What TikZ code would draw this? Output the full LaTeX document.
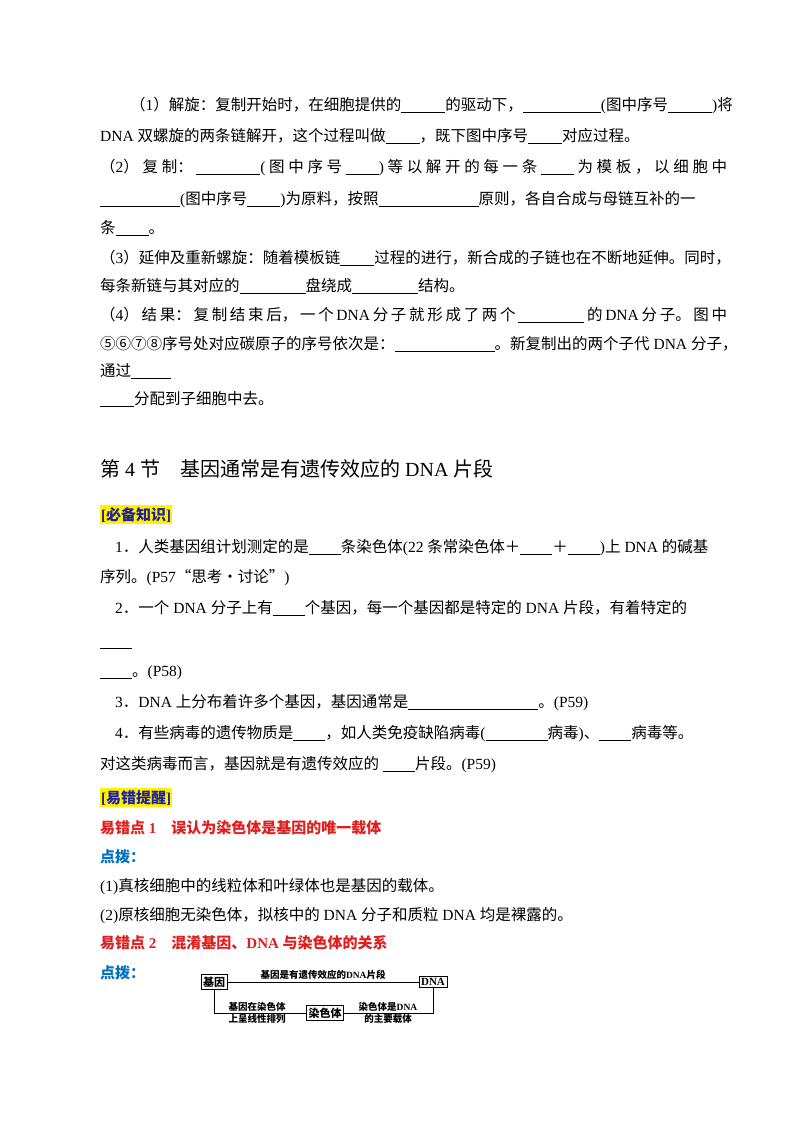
\documentclass[tikz,border=0pt]{standalone}
\usepackage{fontspec}
\setmainfont{Liberation Serif}
\newfontfamily\cjk{Noto Sans CJK SC}
\XeTeXinterchartokenstate=1
\newXeTeXintercharclass\cjkclass
\newcount\cc
\def\setrange#1#2{\cc=#1 \loop \XeTeXcharclass\cc=\cjkclass \advance\cc 1 \ifnum\cc<#2 \repeat}
\setrange{"3000}{"3040}
\setrange{"4E00}{"A000}
\setrange{"FF00}{"FFF0}
\setrange{"2460}{"2500}
\XeTeXcharclass"201C=\cjkclass
\XeTeXcharclass"201D=\cjkclass
\XeTeXcharclass"00B7=\cjkclass
\XeTeXinterchartoks 0 \cjkclass = {\cjk}
\XeTeXinterchartoks 4095 \cjkclass = {\cjk}
\XeTeXinterchartoks \cjkclass 0 = {\rmfamily}
\XeTeXinterchartoks \cjkclass 4095 = {\rmfamily}
\newcommand\bl[1]{\rule[-2.5pt]{#1pt}{0.6pt}}
\newcommand\hf{\hfill}
\definecolor{hdblue}{HTML}{2020A0}
\definecolor{errred}{HTML}{E01E1E}
\definecolor{tipblue}{HTML}{0070C0}
\begin{document}
\begin{tikzpicture}[x=1pt,y=-1pt,
  ln/.style={anchor=base west,inner sep=0pt,font=\fontsize{15.5}{17}\selectfont},
  hl/.style={anchor=base west,inner xsep=1pt,inner ysep=2pt,fill=yellow,text=hdblue,font=\fontsize{15}{17}\selectfont\bfseries},
  err/.style={ln,text=errred,font=\fontsize{15}{17}\selectfont\bfseries},
  tip/.style={ln,text=tipblue,font=\fontsize{15}{17}\selectfont\bfseries},
  bx/.style={draw,line width=0.6pt,inner sep=2pt,font=\fontsize{11}{12}\selectfont\bfseries},
  lb/.style={inner sep=0pt,align=center,font=\fontsize{9.5}{12}\selectfont\bfseries},
  cn/.style={line width=0.6pt}]
\useasboundingbox[fill=white] (0,0) rectangle (800,1132);
\node[ln] (l1) at (130,110) {（1）解旋：复制开始时，在细胞提供的\bl{44}的驱动下，\bl{78}(图中序号\bl{44})将};
\node[ln] (l2) at (100,141) {DNA 双螺旋的两条链解开，这个过程叫做\bl{34}，既下图中序号\bl{34}对应过程。};
\node[ln] (l3) at (100,172) {\makebox[627pt][s]{（2）\hf 复\hf 制：\hf\bl{64}(\hf 图\hf 中\hf 序\hf 号\hf\bl{33})\hf 等\hf 以\hf 解\hf 开\hf 的\hf 每\hf 一\hf 条\hf\bl{33}\hf 为\hf 模\hf 板\hf ，\hf 以\hf 细\hf 胞\hf 中}};
\node[ln] (l4) at (100,204) {\bl{80}(图中序号\bl{33})为原料，按照\bl{100}原则，各自合成与母链互补的一};
\node[ln] (l5) at (100,233) {条\bl{33}。};
\node[ln] (l6) at (100,263) {（3）延伸及重新螺旋：随着模板链\bl{34}过程的进行，新合成的子链也在不断地延伸。同时，};
\node[ln] (l7) at (100,291) {每条新链与其对应的\bl{66}盘绕成\bl{66}结构。};
\node[ln] (l8) at (100,320) {\makebox[627pt][s]{（4）\hf 结\hf 果：\hf 复\hf 制\hf 结\hf 束\hf 后，\hf 一\hf 个\hf DNA\hf 分\hf 子\hf 就\hf 形\hf 成\hf 了\hf 两\hf 个\hf\bl{66}\hf 的\hf DNA\hf 分\hf 子。\hf 图\hf 中}};
\node[ln] (l9) at (100,349) {⑤⑥⑦⑧序号处对应碳原子的序号依次是：\bl{100}。新复制出的两个子代 DNA 分子，};
\node[ln] (l10) at (100,376) {通过\bl{40}};
\node[ln] (l11) at (100,404) {\bl{34}分配到子细胞中去。};
\node[anchor=base west,inner sep=0pt,font=\fontsize{20}{22}\selectfont] (h) at (100,476) {第 4 节　基因通常是有遗传效应的 DNA 片段};
\node[hl] (k1) at (100,520) {[必备知识]};
\node[ln] (m1) at (115,552) {1．人类基因组计划测定的是\bl{32}条染色体(22 条常染色体＋\bl{32}＋\bl{32})上 DNA 的碱基};
\node[ln] (m2) at (100,582) {序列。(P57“思考·讨论”)};
\node[ln] (m3) at (115,613) {2．一个 DNA 分子上有\bl{32}个基因，每一个基因都是特定的 DNA 片段，有着特定的};
\node[ln] (m4) at (100,646) {\bl{32}};
\node[ln] (m5) at (100,676) {\bl{32}。(P58)};
\node[ln] (m6) at (115,707) {3．DNA 上分布着许多个基因，基因通常是\bl{130}。(P59)};
\node[ln] (m7) at (115,738) {4．有些病毒的遗传物质是\bl{32}，如人类免疫缺陷病毒(\bl{62}病毒)、\bl{32}病毒等。};
\node[ln] (m8) at (100,769) {对这类病毒而言，基因就是有遗传效应的 \bl{32}片段。(P59)};
\node[hl] (k2) at (100,803) {[易错提醒]};
\node[err] (e1) at (100,833) {易错点 1　误认为染色体是基因的唯一载体};
\node[tip] (t1) at (100,862) {点拨：};
\node[ln] (p1) at (100,891) {(1)真核细胞中的线粒体和叶绿体也是基因的载体。};
\node[ln] (p2) at (100,920) {(2)原核细胞无染色体，拟核中的 DNA 分子和质粒 DNA 均是裸露的。};
\node[err] (e2) at (100,948) {易错点 2　混淆基因、DNA 与染色体的关系};
\node[tip] (t2) at (100,978) {点拨：};
% diagram
\node[bx] (g) at (214,982) {基因};
\node[bx] (d) at (433,982) {DNA};
\node[bx] (c) at (325,1013) {染色体};
\draw[cn] (g.east) -- (d.west) node[lb,midway,above=2pt] {基因是有遗传效应的DNA片段};
\coordinate (gc) at (214,1013);
\coordinate (dc) at (433,1013);
\draw[cn] (g.south) -- (gc) -- (c.west);
\draw[cn] (c.east) -- (dc) -- (d.south);
\node[lb] (cl) at (257,1013) {基因在染色体\\上呈线性排列};
\node[lb] (cr) at (388,1013) {染色体是DNA\\的主要载体};
\end{tikzpicture}
\end{document}
